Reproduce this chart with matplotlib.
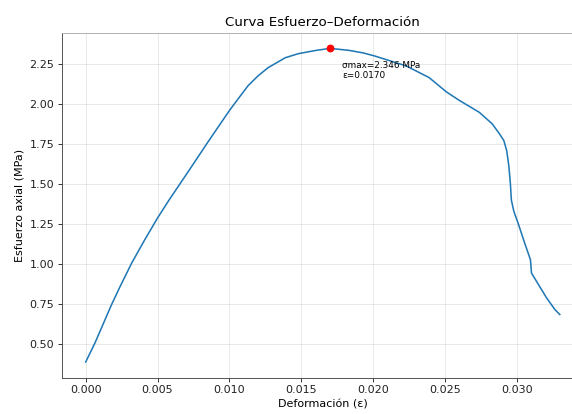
import matplotlib
matplotlib.use("Agg")
import matplotlib.pyplot as plt
import numpy as np

# Data
strain = [0.0, 0.00065, 0.00135, 0.0018, 0.0024, 0.0032, 0.0041, 0.0050, 0.0058,
          0.0072, 0.0085, 0.0100, 0.0106, 0.0113, 0.0120, 0.0127, 0.0139, 0.0148,
          0.0160, 0.0170, 0.0183, 0.0193, 0.0201, 0.0212, 0.0223, 0.0239, 0.0251,
          0.0260, 0.0274, 0.0283, 0.0288, 0.0291, 0.0293, 0.0294, 0.02946, 0.02956,
          0.02963, 0.0298, 0.0301, 0.03056, 0.03096, 0.03103, 0.03138, 0.03208,
          0.03266, 0.0330]
stress = [0.39, 0.51, 0.655, 0.748, 0.862, 1.007, 1.151, 1.288, 1.40,
          1.586, 1.761, 1.958, 2.03, 2.113, 2.175, 2.226, 2.288, 2.313,
          2.333, 2.346, 2.334, 2.318, 2.299, 2.268, 2.237, 2.164, 2.075,
          2.022, 1.947, 1.875, 1.813, 1.772, 1.71, 1.648, 1.606, 1.503,
          1.40, 1.33, 1.255, 1.131, 1.027, 0.945, 0.893, 0.79,
          0.717, 0.686]

title = "Curva Esfuerzo–Deformación"
xlabel = "Deformación (ε)"
ylabel = "Esfuerzo axial (MPa)"

fig = plt.figure(figsize=(7.15, 5.175), dpi=80)
ax = fig.add_axes([62/572, 1 - 377.7/414, (583.5 - 62)/572, (377.7 - 32.7)/414])

ax.plot(strain, stress, color="#1f77b4", linewidth=1.4)

i = int(np.argmax(stress))
ax.plot(strain[i], stress[i], "o", color="red", markersize=6)
ax.annotate(f"σmax={stress[i]:.3f} MPa\nε={strain[i]:.4f}",
            xy=(strain[i], stress[i]), xytext=(11, -11),
            textcoords="offset points", fontsize=8, va="top", ha="left")

ax.set_title(title, fontsize=12)
ax.set_xlabel(xlabel, fontsize=10)
ax.set_ylabel(ylabel, fontsize=10)
ax.grid(True, alpha=0.3)

for s in ["left", "bottom"]:
    ax.spines[s].set_color("#444444")
ax.spines["top"].set_color("#aaaaaa")
ax.spines["right"].set_color("#aaaaaa")
ax.tick_params(colors="#222222")

fig.savefig("out.png", dpi=80)
